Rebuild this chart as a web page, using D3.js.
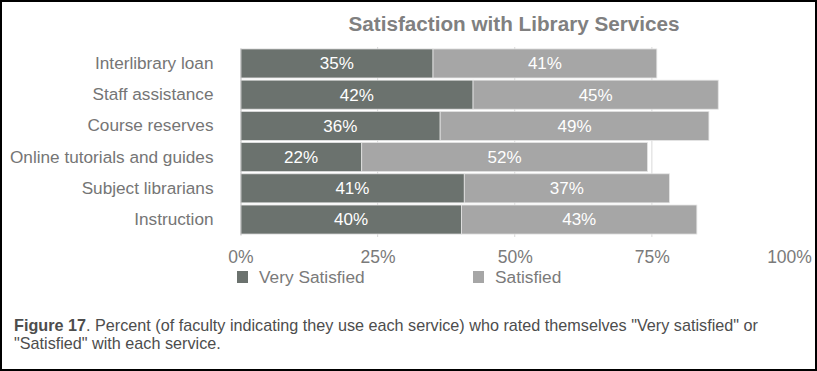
<!DOCTYPE html>
<html lang="en">
<head>
<meta charset="UTF-8">
<title>Satisfaction with Library Services</title>
<style>
    body {
        margin: 0;
        padding: 0;
        background-color: #fff;
        font-family: "Liberation Sans", Arial, sans-serif;
    }
    #frame {
        position: absolute;
        left: 0;
        top: 0;
        width: 813px;
        height: 367px;
        border: 2px solid #000;
    }
    svg {
        position: absolute;
        left: 0;
        top: 0;
    }
</style>
</head>
<body>
<div id="frame"></div>
<svg id="chart" width="817" height="371"></svg>

<script src="https://d3js.org/d3.v7.min.js"></script>
<script>
    // data
    var services = ["Interlibrary loan", "Staff assistance", "Course reserves",
                    "Online tutorials and guides", "Subject librarians", "Instruction"];
    var verySatisfied = [35.1, 42.4, 36.4, 22.1, 40.8, 40.3];
    var satisfied = [40.8, 44.7, 49.0, 52.1, 37.4, 42.9];
    var tickValues = [0, 25, 50, 75, 100];
    var seriesNames = ["Very Satisfied", "Satisfied"];
    var colors = ["#6b726e", "#a6a6a6"];

    var svg = d3.select("#chart");

    var x = d3.scaleLinear().domain([0, 100]).range([240.5, 789]);
    var y = d3.scaleBand().domain(services).range([48, 235]).paddingInner(0.07).paddingOuter(0.03);

    // title
    svg.append("text")
        .attr("x", 514)
        .attr("y", 31)
        .attr("text-anchor", "middle")
        .attr("font-size", 20.7)
        .attr("font-weight", "bold")
        .attr("fill", "#808080")
        .text("Satisfaction with Library Services");

    // faint grid lines
    svg.append("g")
        .selectAll("line")
        .data(tickValues.slice(1, 4))
        .join("line")
        .attr("x1", d => x(d)).attr("x2", d => x(d))
        .attr("y1", 47).attr("y2", 237)
        .attr("stroke", "#d9d9d9")
        .attr("stroke-width", 1);

    // stacked bars
    var rows = services.map(function (s, i) {
        return { name: s, v1: verySatisfied[i], v2: satisfied[i] };
    });

    var row = svg.append("g").selectAll("g")
        .data(rows)
        .join("g");

    row.append("rect")
        .attr("x", x(0))
        .attr("y", d => y(d.name))
        .attr("width", d => x(d.v1) - x(0))
        .attr("height", y.bandwidth())
        .attr("fill", colors[0])
        .attr("stroke", "#e4e4e4")
        .attr("stroke-width", 0.8);

    row.append("rect")
        .attr("x", d => x(d.v1))
        .attr("y", d => y(d.name))
        .attr("width", d => x(d.v1 + d.v2) - x(d.v1))
        .attr("height", y.bandwidth())
        .attr("fill", colors[1])
        .attr("stroke", "#e4e4e4")
        .attr("stroke-width", 0.8);

    // value labels
    row.append("text")
        .attr("x", d => (x(0) + x(d.v1)) / 2)
        .attr("y", d => y(d.name) + y.bandwidth() / 2)
        .attr("dy", "0.35em")
        .attr("text-anchor", "middle")
        .attr("font-size", 17)
        .attr("fill", "#fff")
        .text(d => Math.round(d.v1) + "%");

    row.append("text")
        .attr("x", d => (x(d.v1) + x(d.v1 + d.v2)) / 2)
        .attr("y", d => y(d.name) + y.bandwidth() / 2)
        .attr("dy", "0.35em")
        .attr("text-anchor", "middle")
        .attr("font-size", 17)
        .attr("fill", "#fff")
        .text(d => Math.round(d.v2) + "%");

    // category axis
    var yAxis = svg.append("g")
        .attr("transform", "translate(240.5,0)")
        .call(d3.axisLeft(y).tickSize(0).tickPadding(27));
    yAxis.select(".domain").attr("stroke", "#bfbfbf");
    yAxis.selectAll("text")
        .attr("font-size", 17.2)
        .attr("font-family", "'Liberation Sans', Arial, sans-serif")
        .attr("fill", "#757575");

    // percent axis
    var xAxis = svg.append("g")
        .attr("transform", "translate(0,237)")
        .call(d3.axisBottom(x).tickValues(tickValues).tickFormat(d => d + "%").tickSize(0).tickPadding(14));
    xAxis.select(".domain").remove();
    xAxis.selectAll("text")
        .attr("font-size", 17.5)
        .attr("font-family", "'Liberation Sans', Arial, sans-serif")
        .attr("fill", "#7a7a7a");

    // legend
    var legendX = [237, 473];
    var legend = svg.append("g").selectAll("g")
        .data(seriesNames)
        .join("g")
        .attr("transform", (d, i) => "translate(" + legendX[i] + ",271)");
    legend.append("rect")
        .attr("width", 11).attr("height", 12)
        .attr("fill", (d, i) => colors[i]);
    legend.append("text")
        .attr("x", 22).attr("y", 6)
        .attr("dy", "0.35em")
        .attr("font-size", 17.3)
        .attr("fill", "#7a7a7a")
        .text(d => d);

    // caption
    var caption = svg.append("g").attr("font-size", 16.2).attr("fill", "#4d4d4d");
    var line1 = caption.append("text").attr("x", 14).attr("y", 331);
    line1.append("tspan").attr("font-weight", "bold").text("Figure 17");
    line1.append("tspan").text(". Percent (of faculty indicating they use each service) who rated themselves \"Very satisfied\" or");
    caption.append("text").attr("x", 14).attr("y", 349)
        .text("\"Satisfied\" with each service.");
</script>
</body>
</html>
